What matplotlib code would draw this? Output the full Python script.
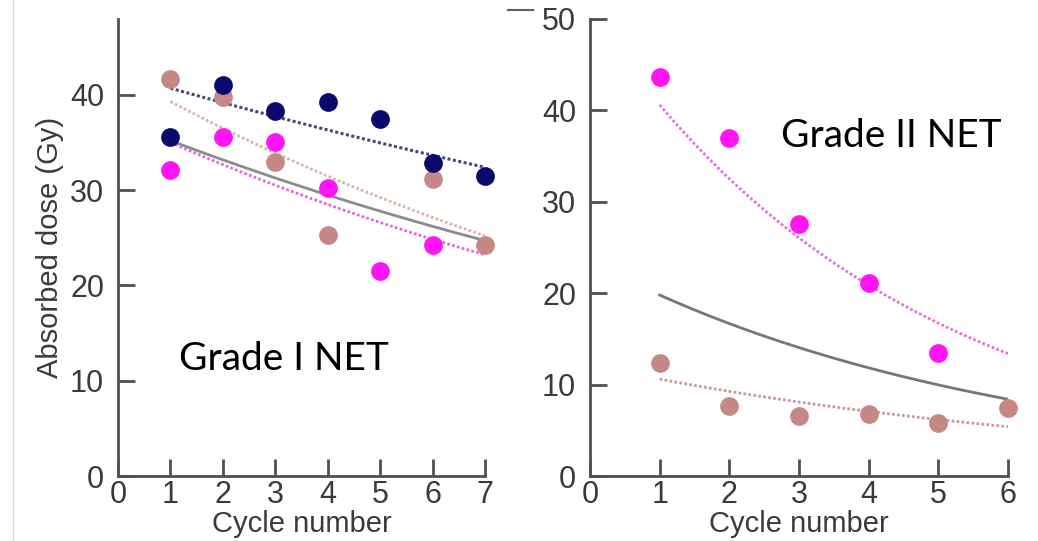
import numpy as np
import matplotlib
matplotlib.use("Agg")
import matplotlib.pyplot as plt
from matplotlib.lines import Line2D

# Grade I NET (left panel)
cycles_g1 = [1, 2, 3, 4, 5, 6, 7]
navy_g1 = [35.6, 41.0, 38.3, 39.2, 37.5, 32.8, 31.5]
rosy_cycles_g1 = [1, 2, 3, 4, 6, 7]
rosy_g1 = [41.7, 39.8, 32.9, 25.3, 31.2, 24.2]
magenta_cycles_g1 = [1, 2, 3, 4, 5, 6]
magenta_g1 = [32.1, 35.6, 35.1, 30.2, 21.5, 24.2]
# fitted curves: value at first and last cycle
fit_navy_g1 = [40.7, 32.4]
fit_rosy_g1 = [39.3, 25.2]
fit_gray_g1 = [35.2, 24.7]
fit_magenta_g1 = [35.0, 23.2]

# Grade II NET (right panel)
magenta_cycles_g2 = [1, 2, 3, 4, 5]
magenta_g2 = [43.6, 37.0, 27.6, 21.1, 13.5]
rosy_cycles_g2 = [1, 2, 3, 4, 5, 6]
rosy_g2 = [12.4, 7.7, 6.6, 6.8, 5.8, 7.4]
fit_magenta_g2 = [40.6, 13.4]
fit_gray_g2 = [19.8, 8.4]
fit_rosy_g2 = [10.6, 5.4]

NAVY = "#0a0a6c"
ROSY = "#c68884"
MAGENTA = "#ff14f5"
TXT = "#3a3a3a"
SPINE = "#505050"

plt.rcParams['font.family'] = ['Liberation Sans', 'DejaVu Sans']

W, H = 1038, 541
fig = plt.figure(figsize=(W / 100, H / 100), dpi=100)


def px_axes(x0, x1, y_top, y_bot):
    return fig.add_axes([x0 / W, 1 - y_bot / H, (x1 - x0) / W, (y_bot - y_top) / H])


def exp_curve(x_first, x_last, ends):
    xs = np.linspace(x_first, x_last, 100)
    a, b = ends
    return xs, a * (b / a) ** ((xs - x_first) / (x_last - x_first))


def style(ax, xmax, ymax, yticks):
    ax.set_xlim(0, xmax)
    ax.set_ylim(0, ymax)
    ax.set_xticks(range(0, xmax + 1))
    ax.set_yticks(yticks)
    for s in ['top', 'right']:
        ax.spines[s].set_visible(False)
    for s in ['left', 'bottom']:
        ax.spines[s].set_color(SPINE)
        ax.spines[s].set_linewidth(2)
    ax.tick_params(direction='in', length=12, width=2, color=SPINE,
                   labelsize=22, labelcolor=TXT)
    ax.tick_params(axis='y', pad=10)
    ax.tick_params(axis='x', pad=3)
    ax.set_xlabel("Cycle number", fontsize=21, color=TXT, labelpad=0)
    ax.patch.set_alpha(0)


dot = (0, (1, 0.8))
mk = dict(marker='o', ms=13.5, ls='none', clip_on=False, zorder=3, mew=0)

# left panel
ax1 = px_axes(118, 485, 18.6, 476)
style(ax1, 7, 48, [0, 10, 20, 30, 40])
x, y = exp_curve(1, 7, fit_navy_g1)
ax1.plot(x, y, color="#4a4a78", lw=2.2, ls=dot)
x, y = exp_curve(1, 7, fit_rosy_g1)
ax1.plot(x, y, color="#dcb4aa", lw=2, ls=dot)
x, y = exp_curve(1, 7, fit_gray_g1)
ax1.plot(x, y, color="#8c8c8c", lw=2)
x, y = exp_curve(1, 7, fit_magenta_g1)
ax1.plot(x, y, color="#e868e0", lw=2, ls=dot)
ax1.plot(rosy_cycles_g1, rosy_g1, color=ROSY, **mk)
ax1.plot(magenta_cycles_g1, magenta_g1, color=MAGENTA, **mk)
ax1.plot(cycles_g1, navy_g1, color=NAVY, **mk)
ax1.set_ylabel("Absorbed dose (Gy)", fontsize=21, color=TXT, labelpad=4)
ax1.text(3.17, 12.3, "Grade I NET", fontsize=28, family=['Lato', 'DejaVu Sans'],
         ha='center', va='center', color='black')

# right panel
ax2 = px_axes(590, 1008, 19, 476)
style(ax2, 6, 50, [0, 10, 20, 30, 40, 50])
x, y = exp_curve(1, 6, fit_magenta_g2)
ax2.plot(x, y, color="#e870e0", lw=2, ls=dot)
x, y = exp_curve(1, 6, fit_gray_g2)
ax2.plot(x, y, color="#777777", lw=2)
x, y = exp_curve(1, 6, fit_rosy_g2)
ax2.plot(x, y, color="#c89a98", lw=2, ls=dot)
ax2.plot(magenta_cycles_g2, magenta_g2, color=MAGENTA, **mk)
ax2.plot(rosy_cycles_g2, rosy_g2, color=ROSY, **mk)
ax2.text(4.32, 37.2, "Grade II NET", fontsize=28, family=['Lato', 'DejaVu Sans'],
         ha='center', va='center', color='black')

# faint remnants of the cropped source figure
fig.add_artist(Line2D([12.5 / W, 12.5 / W], [0, 1], color="#d8d8d8", lw=1))
fig.add_artist(Line2D([508 / W, 533 / W], [1 - 10 / H, 1 - 10 / H], color="#606060", lw=1.5))

fig.savefig("out.png", dpi=100)
